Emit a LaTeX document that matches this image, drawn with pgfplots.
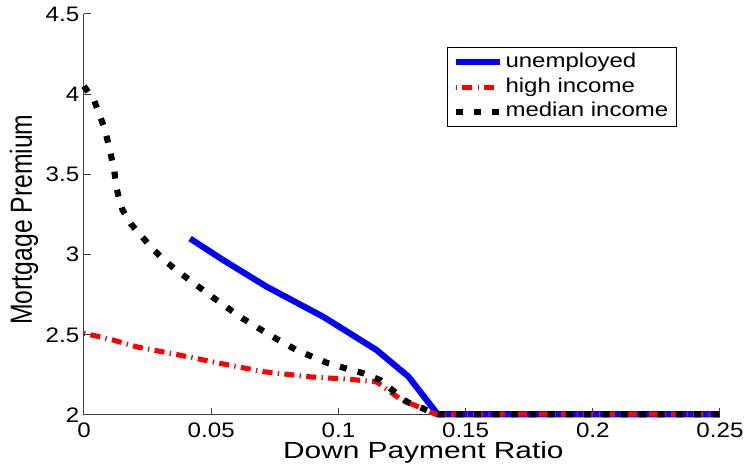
\documentclass[border=0pt]{standalone}
\usepackage{pgfplots}
\pgfplotsset{compat=1.18}
\usepackage{fontspec}
\setmainfont{Liberation Sans}
\newfontfamily\tickfont{Liberation Sans}[FakeStretch=1.15]
\newfontfamily\xlabfont{Liberation Sans}[FakeStretch=1.28]
\newfontfamily\ylabfont{Liberation Sans}[FakeStretch=0.81]
\newfontfamily\legfont{Liberation Sans}[FakeStretch=1.2]
\begin{document}
\begin{tikzpicture}
\begin{axis}[
  name=ax, at={(0,0)}, anchor=south west,
  scale only axis, width=477pt, height=300.75pt,
  xmin=0, xmax=0.25, ymin=2, ymax=4.5,
  axis x line*=bottom, axis y line*=left,
  axis line style={black!75, line width=0.75pt, -},
  tick style={black!75, line width=0.75pt},
  tick align=inside, major tick length=5pt,
  xtick={0,0.05,0.1,0.15,0.2,0.25},
  xticklabels={0,0.05,0.1,0.15,0.2,0.25},
  ytick={2,2.5,3,3.5,4,4.5},
  yticklabels={2,2.5,3,3.5,4,4.5},
  scaled x ticks=false,
  /pgf/number format/assume math mode=true,
  tick label style={font=\tickfont\fontsize{15.75}{18}\selectfont},
  xticklabel style={yshift=-2pt},
  xlabel={Down Payment Ratio},
  xlabel style={at={(axis description cs:0.5336,-0.1097)}, anchor=base, font=\xlabfont\fontsize{17.5}{20}\selectfont},
  ylabel={Mortgage Premium},
  ylabel style={at={(axis description cs:-0.0818,0.4875)}, anchor=base, rotate=0, font=\ylabfont\fontsize{22.9}{26}\selectfont},
  clip=false,
  legend cell align=left,
  legend image code/.code={\draw[#1] (0pt,0pt) -- (33pt,0pt);},
  legend style={at={(axis description cs:0.5708,0.9177)}, anchor=north west,
    draw=black, line width=0.6pt, font=\legfont\fontsize{15}{18}\selectfont,
    row sep=0pt, inner xsep=4pt, inner ysep=2pt,
    nodes={text height=11pt, text depth=3.5pt, inner ysep=2pt}},
]
\addplot[blue, line width=4.6pt] coordinates {
(0.0417,3.10) (0.0548,2.965) (0.0718,2.80) (0.0941,2.612) (0.1150,2.405)
(0.1275,2.24) (0.1390,2.005) (0.25,2.005)};
\addlegendentry{unemployed}
\addplot[red, line width=3.8pt, dash pattern=on 1pt off 4pt on 7.5pt off 4pt] coordinates {
(0,2.51) (0.0115,2.467) (0.0207,2.425) (0.0377,2.373) (0.0535,2.322)
(0.0705,2.27) (0.0888,2.238) (0.1046,2.222) (0.1150,2.207) (0.1203,2.145)
(0.1249,2.093) (0.1347,2.031) (0.1380,2.005) (0.25,2.005)};
\addlegendentry{high income}
\addplot[black, line width=4.6pt, dash pattern=on 5.25pt off 8.5pt] coordinates {
(0,4.05) (0.004,3.96) (0.006,3.877) (0.008,3.79) (0.0093,3.71) (0.0106,3.62)
(0.0119,3.525) (0.0126,3.43) (0.0136,3.36) (0.0152,3.276) (0.0185,3.19)
(0.0224,3.12) (0.0263,3.047) (0.0309,2.975) (0.0355,2.913) (0.0408,2.85)
(0.0508,2.732) (0.0613,2.612) (0.0731,2.498) (0.0836,2.404) (0.0960,2.322)
(0.1098,2.26) (0.1164,2.218) (0.1268,2.083) (0.1386,2.005) (0.25,2.005)};
\addlegendentry{median income}
\end{axis}
\pgfresetboundingbox
\useasboundingbox (-63pt,-39.75pt) rectangle (495pt,311.25pt);
\end{tikzpicture}
\end{document}
